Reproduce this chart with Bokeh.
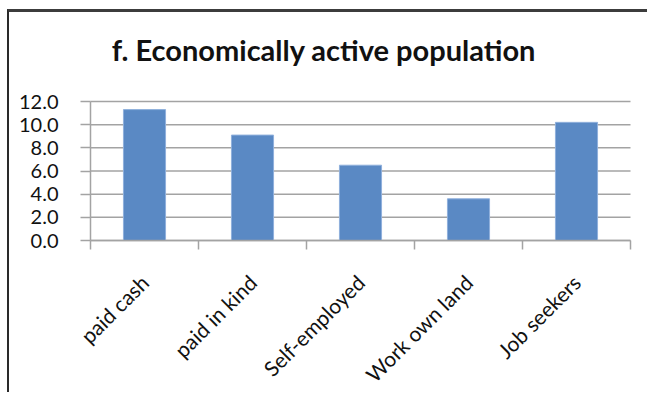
import math
from bokeh.plotting import figure
from bokeh.models import FixedTicker, ColumnDataSource, NumeralTickFormatter, Label, Range1d
from bokeh.embed import file_html
from bokeh.resources import INLINE

categories = ["paid cash", "paid in kind", "Self-employed", "Work own land", "Job seekers"]
values = [11.3, 9.1, 6.5, 3.6, 10.2]
y_ticks = [0, 2, 4, 6, 8, 10, 12]
title_text = "f. Economically active population"

N = len(categories)
xs = [i + 0.5 for i in range(N)]
boundaries = list(range(N + 1))

src = ColumnDataSource(dict(x=xs, top=values, cat=categories))
grid_src = ColumnDataSource(dict(y=y_ticks))

GRID = "#a3a3a3"

# layout: plot area 540 x 139 px, with margins kept inside the ranges so texts are never clipped
Y_MAX = y_ticks[-1]
PX_Y = 139 / Y_MAX
PX_X = 540 / N
y_lo, y_hi = -155 / PX_Y, Y_MAX + 89 / PX_Y
x_lo, x_hi = -81 / PX_X, N + 19 / PX_X

p = figure(width=640, height=383, x_range=Range1d(x_lo, x_hi), y_range=Range1d(y_lo, y_hi),
           output_backend="svg", toolbar_location=None,
           min_border_left=0, min_border_right=0, min_border_top=0, min_border_bottom=0)
p.styles = {"margin-left": "7px", "margin-top": "9px",
            "border-top": "3px solid #3c3c3c", "border-left": "2px solid #2a2a2a"}
p.outline_line_color = None
p.background_fill_color = "white"
p.border_fill_color = "white"
p.title.text = ""
p.xgrid.grid_line_color = None
p.ygrid.grid_line_color = None

# horizontal gridlines at the value ticks
p.segment(x0=0, x1=N, y0="y", y1="y", source=grid_src, line_color=GRID, line_width=1.5)

p.vbar(x="x", top="top", bottom=0, width=0.39, source=src,
       fill_color="#5a89c4", line_color="#8fb0dc", line_width=1)

# chart title
p.add_layout(Label(x=314.5, y=346, x_units="screen", y_units="screen", text=title_text,
                   text_font="Lato", text_font_size="29px", text_font_style="bold",
                   text_color="#111111", text_align="center", text_baseline="alphabetic"))

xa = p.xaxis[0]
xa.fixed_location = 0
xa.bounds = (0, N)
xa.ticker = FixedTicker(ticks=xs, minor_ticks=boundaries)
xa.major_label_overrides = {x: c for x, c in zip(xs, categories)}
xa.major_tick_line_color = None
xa.major_tick_in = 0
xa.major_tick_out = 0
xa.minor_tick_in = 0
xa.minor_tick_out = 9
xa.minor_tick_line_color = GRID
xa.minor_tick_line_width = 1.5
xa.axis_line_color = GRID
xa.axis_line_width = 1.5
xa.major_label_orientation = math.pi / 4
xa.major_label_standoff = 29
xa.major_label_text_font = "Lato"
xa.major_label_text_font_size = "21px"
xa.major_label_text_color = "#111111"

ya = p.yaxis[0]
ya.fixed_location = 0
ya.bounds = (0, Y_MAX)
ya.ticker = FixedTicker(ticks=y_ticks)
ya.formatter = NumeralTickFormatter(format="0.0")
ya.major_tick_in = 0
ya.major_tick_out = 10
ya.major_tick_line_color = GRID
ya.major_tick_line_width = 1.5
ya.minor_tick_line_color = None
ya.axis_line_color = GRID
ya.axis_line_width = 1.5
ya.major_label_text_font = "Lato"
ya.major_label_text_font_size = "20px"
ya.major_label_text_color = "#111111"
ya.major_label_standoff = 22

open("out.html", "w").write(file_html(p, INLINE))
